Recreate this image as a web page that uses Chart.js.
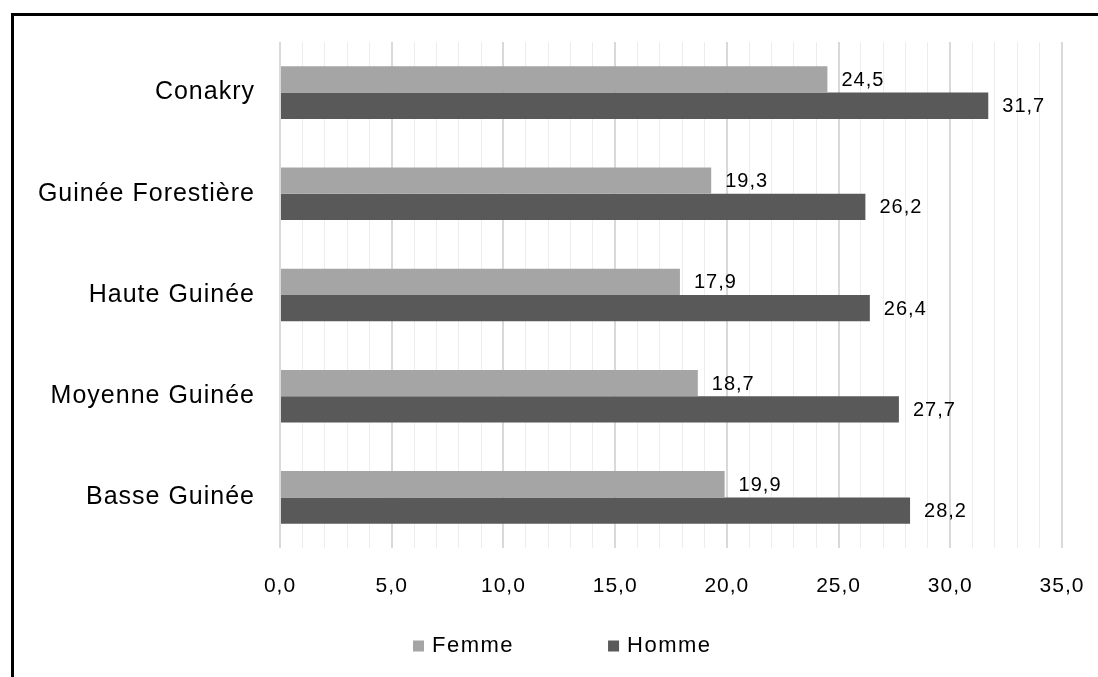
<!DOCTYPE html>
<html>
<head>
<meta charset="utf-8">
<script src="https://cdn.jsdelivr.net/npm/chart.js@4/dist/chart.umd.min.js"></script>
<style>
    html, body { margin: 0; padding: 0; background: #fff; }
    #wrap { position: relative; width: 1098px; height: 677px; overflow: hidden; }
    #frame {
        position: absolute; left: 11px; top: 13px; width: 1200px; height: 800px;
        border-top: 3px solid #000; border-left: 3px solid #000;
        pointer-events: none;
    }
</style>
</head>
<body>
<div id="wrap">
    <canvas id="chart" width="1098" height="677"></canvas>
    <div id="frame"></div>
</div>
<script>
/** Data */
const regions = ['Conakry', 'Guinée Forestière', 'Haute Guinée', 'Moyenne Guinée', 'Basse Guinée'];
const femme = [24.5, 19.3, 17.9, 18.7, 19.9];
const homme = [31.7, 26.2, 26.4, 27.7, 28.2];
const seriesNames = ['Femme', 'Homme'];
const xTicks = [0, 5, 10, 15, 20, 25, 30, 35];

const FONT = '"Liberation Sans", Arial, sans-serif';

function fmt(v) {
    return v.toFixed(1).replace('.', ',');
}

/** Local plugins */
let Local = {
    // a touch of letter spacing, the original text is wide
    spacing: {
        id: 'spacing',
        beforeDraw: function (chart) {
            chart.ctx.letterSpacing = '1px';
        }
    },
    // value next to each bar
    values: {
        id: 'values',
        afterDatasetsDraw: function (chart) {
            let ctx = chart.ctx;
            ctx.save();
            ctx.letterSpacing = '1px';
            ctx.font = '20px ' + FONT;
            ctx.fillStyle = '#000';
            ctx.textAlign = 'left';
            ctx.textBaseline = 'middle';
            chart.data.datasets.forEach(function (ds, i) {
                let meta = chart.getDatasetMeta(i);
                meta.data.forEach(function (bar, j) {
                    ctx.fillText(fmt(ds.data[j]), bar.x + 14, bar.y + 1);
                });
            });
            ctx.restore();
        }
    },
    // legend laid out like the original (wide gap between items)
    legend: {
        id: 'legendWide',
        afterDraw: function (chart) {
            let ctx = chart.ctx;
            ctx.save();
            ctx.letterSpacing = '1.5px';
            ctx.font = '22px ' + FONT;
            ctx.textBaseline = 'middle';
            ctx.textAlign = 'left';
            let x = 413;
            let y = 646;
            chart.data.datasets.forEach(function (ds) {
                ctx.fillStyle = ds.backgroundColor;
                ctx.fillRect(x, y - 5.5, 11, 11);
                ctx.fillStyle = '#000';
                ctx.fillText(ds.label, x + 19, y);
                x += 19 + ctx.measureText(ds.label).width + 94;
            });
            ctx.restore();
        }
    }
};

let ctx = document.getElementById('chart').getContext('2d');
new Chart(ctx, {
    type: 'bar',
    data: {
        labels: regions,
        datasets: [{
            label: seriesNames[0],
            data: femme,
            backgroundColor: '#a5a5a5'
        }, {
            label: seriesNames[1],
            data: homme,
            backgroundColor: '#595959'
        }]
    },
    options: {
        indexAxis: 'y',
        responsive: false,
        animation: false,
        devicePixelRatio: 1,
        layout: { padding: { top: 42, right: 36, bottom: 60, left: 0 } },
        datasets: {
            bar: { categoryPercentage: 0.52, barPercentage: 1.0 }
        },
        plugins: {
            legend: { display: false },
            tooltip: { enabled: false }
        },
        scales: {
            x: {
                min: 0,
                max: 35,
                afterFit: function (scale) {
                    scale.height = 69;
                    scale.paddingLeft = 0;
                    scale.paddingRight = 0;
                },
                afterBuildTicks: function (scale) {
                    let t = [];
                    for (let v = 0; v <= 35; v++) t.push({ value: v });
                    scale.ticks = t;
                },
                ticks: {
                    autoSkip: false,
                    maxRotation: 0,
                    padding: 26,
                    color: '#000',
                    font: { family: FONT, size: 21 },
                    callback: function (v) {
                        return xTicks.indexOf(v) >= 0 ? fmt(v) : '';
                    }
                },
                grid: {
                    drawTicks: false,
                    color: function (c) {
                        return c.tick && c.tick.value % 5 === 0 ? '#d9d9d9' : '#ededed';
                    },
                    lineWidth: function (c) {
                        return c.tick && c.tick.value % 5 === 0 ? 2 : 1;
                    }
                },
                border: { display: false }
            },
            y: {
                afterFit: function (scale) { scale.width = 280; },
                ticks: {
                    padding: 25,
                    color: '#000',
                    font: { family: FONT, size: 25 }
                },
                grid: { display: false, drawTicks: false },
                border: { display: false }
            }
        }
    },
    plugins: [Local.spacing, Local.values, Local.legend]
});
</script>
</body>
</html>
